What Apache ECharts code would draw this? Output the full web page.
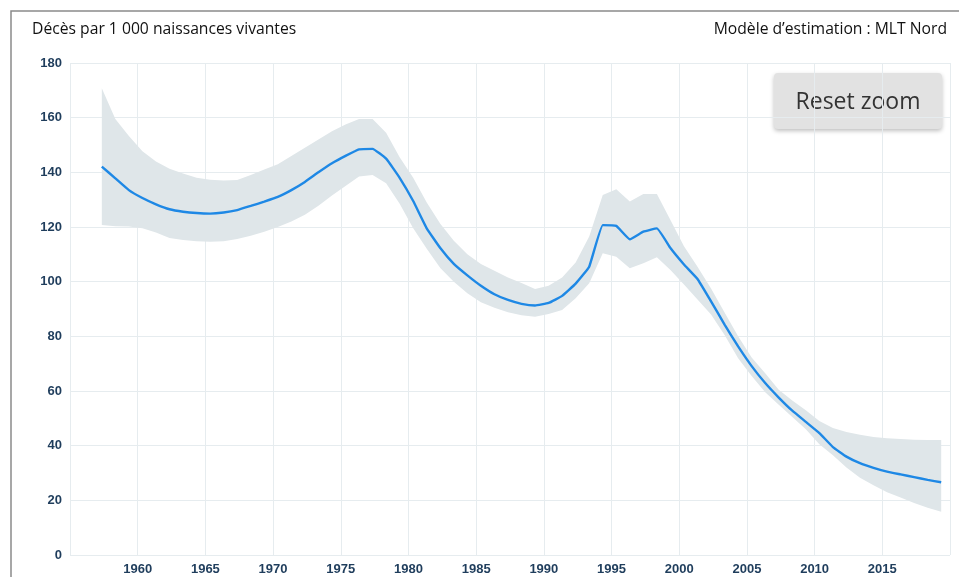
<!DOCTYPE html>
<html>
<head>
<meta charset="utf-8">
<script src="https://cdn.jsdelivr.net/npm/echarts@6/dist/echarts.min.js"></script>
<style>
  html, body { margin: 0; padding: 0; background: #fff; }
  #container { width: 959px; height: 577px; }
</style>
</head>
<body>
<div id="container"></div>
<script>
// years of the estimates (points sit a bit after the year tick)
var years = [];
for (var y = 1957; y <= 2019; y++) years.push(y);
var yearShift = 0.35;

// median estimate
var median = [
    142.1, 137.8, 133.5, 130.6, 128.3, 126.5, 125.6, 125.1, 124.9, 125.3,
    126.2, 127.7, 129.3, 131.0, 133.5, 136.5, 140.0, 143.3, 146.0, 148.4,
    148.6, 145.0, 138.0, 129.5, 119.5, 112.3, 106.5, 102.3, 98.5, 95.4,
    93.3, 91.9, 91.3, 92.2, 94.8, 99.3, 105.5, 120.7, 120.4, 115.5,
    118.3, 119.5, 112.3, 106.3, 101.0, 92.8, 84.3, 76.3, 69.1, 62.9,
    57.6, 52.8, 48.7, 44.6, 39.5, 36.0, 33.6, 31.9, 30.5, 29.5,
    28.5, 27.5, 26.6
];

// 90% interval, upper bound
var upper = [
    170.8, 159.5, 153.3, 147.7, 144.0, 141.3, 139.6, 138.0, 137.3, 137.0,
    137.2, 139.0, 141.0, 143.0, 146.0, 149.0, 152.0, 155.0, 157.5, 159.5,
    159.5, 154.5, 145.5, 138.0, 129.0, 121.2, 115.0, 110.0, 106.5, 104.0,
    101.5, 99.5, 97.3, 98.5, 101.5, 107.0, 116.5, 131.7, 133.8, 129.3,
    132.1, 132.1, 122.6, 113.0, 105.5, 97.5, 88.7, 80.0, 72.3, 66.5,
    60.5, 56.5, 53.0, 49.0, 46.5, 45.0, 44.0, 43.2, 42.7, 42.4,
    42.2, 42.1, 42.1
];

// 90% interval, lower bound
var lower = [
    120.7, 120.3, 120.2, 119.5, 118.0, 116.0, 115.2, 114.8, 114.6, 114.8,
    115.6, 116.8, 118.3, 120.0, 122.0, 124.5, 127.8, 131.5, 135.0, 138.5,
    139.0, 136.0, 128.5, 119.5, 112.0, 105.0, 100.0, 95.8, 92.5, 90.5,
    88.8, 87.7, 87.2, 88.2, 89.6, 93.9, 99.4, 110.4, 109.1, 104.9,
    106.7, 108.9, 104.3, 99.0, 93.5, 88.0, 80.5, 72.0, 65.5, 59.5,
    55.0, 50.5, 46.0, 40.5, 36.5, 32.0, 28.3, 25.5, 23.0, 21.0,
    19.0, 17.3, 15.8
];

var yTicks = [0, 20, 40, 60, 80, 100, 120, 140, 160, 180];
var xTicks = [1955, 1960, 1965, 1970, 1975, 1980, 1985, 1990, 1995, 2000, 2005, 2010, 2015, 2020];

function pairs(vals) {
    var out = [];
    for (var i = 0; i < years.length; i++) {
        out.push([years[i] + yearShift, vals[i]]);
    }
    return out;
}

// band polygon: upper bound left to right, then lower bound back
function renderBand(params, api) {
    if (params.dataIndex !== 0) return;
    var pts = [];
    for (var i = 0; i < years.length; i++) {
        pts.push(api.coord([years[i] + yearShift, upper[i]]));
    }
    for (var j = years.length - 1; j >= 0; j--) {
        pts.push(api.coord([years[j] + yearShift, lower[j]]));
    }
    return {
        type: 'polygon',
        shape: { points: pts },
        style: { fill: '#dfe6e9' },
        silent: true
    };
}

var labelStyle = {
    color: '#1f3d5c',
    fontFamily: 'Liberation Sans, Arial, sans-serif',
    fontWeight: 'bold',
    fontSize: 13
};

var dom = document.getElementById('container');
var myChart = echarts.init(dom, null, { renderer: 'canvas' });

var option = {
    animation: false,
    grid: { left: 70, right: 9, top: 63, bottom: 22 },
    xAxis: {
        type: 'value',
        min: xTicks[0],
        max: xTicks[xTicks.length - 1],
        interval: 5,
        axisLine: { show: false },
        axisTick: { show: false },
        splitLine: { lineStyle: { color: '#e6ecef', width: 1 } },
        axisLabel: Object.assign({
            margin: 8,
            showMinLabel: false,
            showMaxLabel: false,
            formatter: function (v) { return String(v); }
        }, labelStyle)
    },
    yAxis: {
        type: 'value',
        min: yTicks[0],
        max: yTicks[yTicks.length - 1],
        interval: 20,
        axisLine: { show: false },
        axisTick: { show: false },
        splitLine: { lineStyle: { color: '#e6ecef', width: 1 } },
        axisLabel: Object.assign({ margin: 8 }, labelStyle)
    },
    series: [
        {
            name: 'band',
            type: 'custom',
            renderItem: renderBand,
            data: [[years[0] + yearShift, upper[0]]],
            z: 2
        },
        {
            name: 'median',
            type: 'line',
            data: pairs(median),
            symbol: 'none',
            smooth: 0.1,
            lineStyle: { color: '#1e88e5', width: 2.4 },
            z: 5
        }
    ],
    graphic: [
        {
            type: 'rect',
            shape: { x: 11, y: 11, width: 1000, height: 620 },
            style: { fill: 'none', stroke: '#8a8a8a', lineWidth: 1.5 },
            silent: true
        },
        {
            type: 'text',
            left: 32,
            top: 22,
            style: {
                text: 'Décès par 1 000 naissances vivantes',
                fill: '#111',
                font: '15.7px "Open Sans", sans-serif'
            }
        },
        {
            type: 'text',
            right: 12,
            top: 22,
            style: {
                text: 'Modèle d\u2019estimation : MLT Nord',
                fill: '#111',
                font: '15.7px "Open Sans", sans-serif'
            }
        },
        {
            type: 'group',
            left: 774,
            top: 73,
            children: [
                {
                    type: 'rect',
                    shape: { x: 0, y: 0, width: 168, height: 56, r: 4 },
                    style: {
                        fill: '#e2e2e2',
                        shadowBlur: 4,
                        shadowOffsetY: 2,
                        shadowColor: 'rgba(0,0,0,0.25)'
                    }
                },
                {
                    type: 'text',
                    x: 84,
                    y: 29,
                    style: {
                        text: 'Reset zoom',
                        fill: '#333',
                        font: '23px "Open Sans", sans-serif',
                        align: 'center',
                        verticalAlign: 'middle'
                    }
                }
            ]
        }
    ]
};

myChart.setOption(option);
window.addEventListener('resize', myChart.resize);
</script>
</body>
</html>
